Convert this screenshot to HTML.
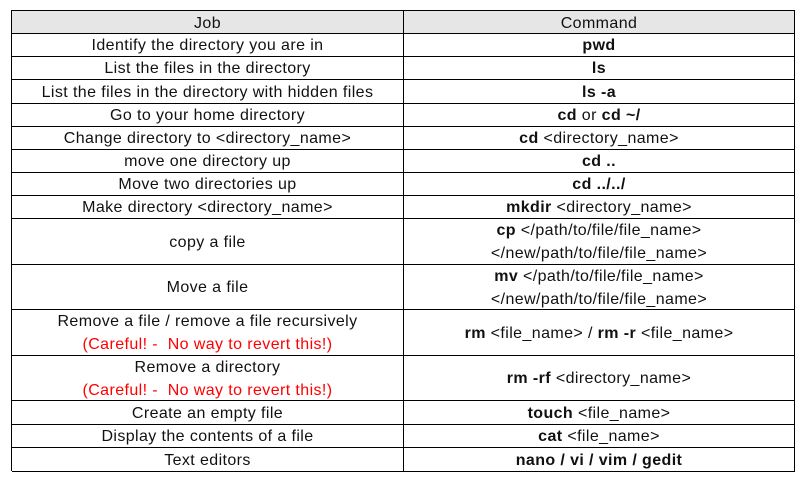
<!DOCTYPE html>
<html><head><meta charset="utf-8"><style>
body{margin:0;width:805px;height:482px;background:#fff;font-family:"Liberation Sans",sans-serif;font-size:16px;letter-spacing:0.4px;color:#111;position:relative;overflow:hidden}
.c{position:absolute;display:flex;flex-direction:column;justify-content:center;align-items:center;text-align:center;line-height:23px;box-sizing:border-box;border-right:1px solid #000;border-bottom:1px solid #000;white-space:nowrap;padding-top:2px}
.r{color:#f00}
</style></head><body>
<div style="position:absolute;left:11px;top:10px;width:784px;height:461px;border-left:1px solid #000;border-top:1px solid #000;box-sizing:border-box"></div>
<script>
var rows=[10,33,56,79,103,126,149,172,195,218,264,309,355,400,424,447,471];
var L=["Job","Identify the directory you are in","List the files in the directory","List the files in the directory with hidden files","Go to your home directory","Change directory to &lt;directory_name&gt;","move one directory up","Move two directories up","Make directory &lt;directory_name&gt;","copy a file","Move a file","Remove a file / remove a file recursively<br><span class=r>(Careful! -&nbsp; No way to revert this!)</span>","Remove a directory<br><span class=r>(Careful! -&nbsp; No way to revert this!)</span>","Create an empty file","Display the contents of a file","Text editors"];
var R=["Command","<b>pwd</b>","<b>ls</b>","<b>ls -a</b>","<b>cd</b> or <b>cd ~/</b>","<b>cd</b> &lt;directory_name&gt;","<b>cd ..</b>","<b>cd ../../</b>","<b>mkdir</b> &lt;directory_name&gt;","<b>cp</b> &lt;/path/to/file/file_name&gt;<br>&lt;/new/path/to/file/file_name&gt;","<b>mv</b> &lt;/path/to/file/file_name&gt;<br>&lt;/new/path/to/file/file_name&gt;","<b>rm</b> &lt;file_name&gt; / <b>rm -r</b> &lt;file_name&gt;","<b>rm -rf</b> &lt;directory_name&gt;","<b>touch</b> &lt;file_name&gt;","<b>cat</b> &lt;file_name&gt;","<b>nano / vi / vim / gedit</b>"];
var h="";
for(var i=0;i<16;i++){var t=rows[i]+(i?0:1),hh=rows[i+1]-t+1,bg=i?"":"background:#e7e6e6;";
h+='<div class=c style="'+bg+'left:12px;top:'+t+'px;width:392px;height:'+hh+'px"><div>'+L[i]+'</div></div>';
h+='<div class=c style="'+bg+'left:404px;top:'+t+'px;width:391px;height:'+hh+'px"><div>'+R[i]+'</div></div>';}
document.write(h);
</script>
</body></html>
